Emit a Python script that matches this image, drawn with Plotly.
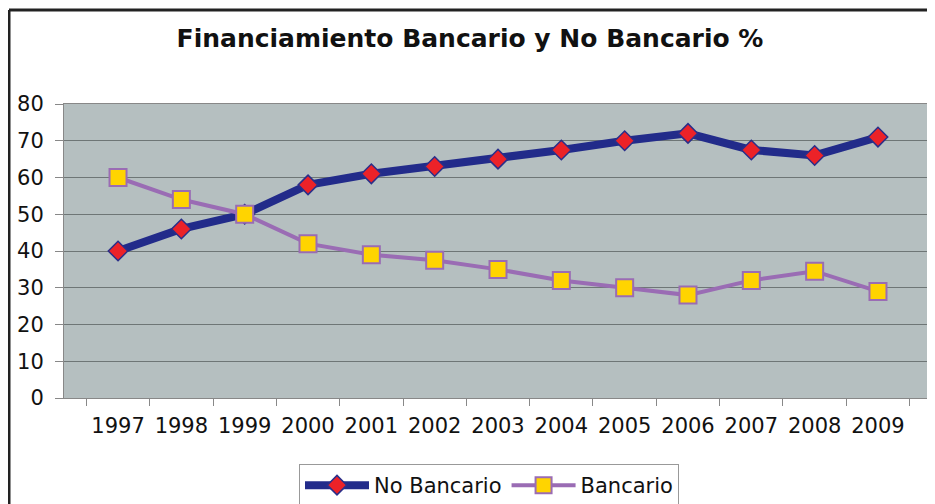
import plotly.graph_objects as go

years = ["1997", "1998", "1999", "2000", "2001", "2002", "2003", "2004", "2005", "2006", "2007", "2008", "2009"]
no_bancario = [40, 46, 50, 58, 61, 63, 65, 67.5, 70, 72, 67.5, 66, 71]
bancario = [60, 54, 50, 42, 39, 37.5, 35, 32, 30, 28, 32, 34.5, 29]
y_ticks = [0, 10, 20, 30, 40, 50, 60, 70, 80]

# page body has an 8px margin, so the figure is sized/placed to compensate
OFF = 8
W, H = 935 - OFF, 504 - OFF
ML, MR, MT, MB = 64 - OFF, 3, 104 - OFF, 504 - 398
pw = W - ML - MR
ph = H - MT - MB

def px_x(x):
    return (x - OFF - ML) / pw

def px_y(y):
    return 1 - (y - OFF - MT) / ph

fig = go.Figure()
fig.add_trace(go.Scatter(
    x=years, y=no_bancario, name="No Bancario", mode="lines+markers",
    line=dict(color="#222b8a", width=8),
    marker=dict(symbol="diamond", size=15, color="#ec2228", line=dict(color="#2a2f8a", width=1.5)),
))
fig.add_trace(go.Scatter(
    x=years, y=bancario, name="Bancario", mode="lines+markers",
    line=dict(color="#9a6cb4", width=4),
    marker=dict(symbol="square", size=17, color="#ffd400", line=dict(color="#9a6cb4", width=2)),
))

font = "DejaVu Sans"
fig.update_layout(
    width=W, height=H,
    margin=dict(l=ML, r=MR, t=MT, b=MB, autoexpand=False),
    paper_bgcolor="white",
    plot_bgcolor="#b5bfc0",
    title=dict(text="<b>Financiamiento Bancario y No Bancario %</b>",
               x=px_x(470), xref="paper", xanchor="center",
               y=1 - (38.5 - OFF) / H, yanchor="middle",
               font=dict(family=font, size=25, color="#111111")),
    xaxis=dict(type="category", tickfont=dict(family=font, size=21, color="#111111"),
               ticks="outside", tickson="boundaries", ticklen=7, tickcolor="#888888",
               showgrid=False, showline=True, linecolor="#888888", linewidth=1, mirror=True,
               ticklabelstandoff=9),
    yaxis=dict(range=[0, 80], tickvals=y_ticks, tickfont=dict(family=font, size=21, color="#111111"),
               ticks="outside", ticklen=8, tickcolor="#888888", ticklabelstandoff=7,
               showgrid=True, gridcolor="#6e7676", gridwidth=1, zeroline=False,
               showline=True, linecolor="#888888", linewidth=1, mirror=True),
    legend=dict(orientation="h", x=px_x(489), xanchor="center",
                y=px_y(464), yanchor="top",
                bordercolor="#999999", borderwidth=1, bgcolor="white",
                font=dict(family=font, size=21, color="#111111"),
                itemwidth=64, tracegroupgap=0),
    showlegend=True,
)

# outer frame (left and top edges visible)
fig.add_shape(type="line", xref="paper", yref="paper",
              x0=px_x(9), x1=px_x(9), y0=px_y(520), y1=px_y(10),
              line=dict(color="#222222", width=3))
fig.add_shape(type="line", xref="paper", yref="paper",
              x0=px_x(9), x1=px_x(950), y0=px_y(10), y1=px_y(10),
              line=dict(color="#222222", width=3))

fig.write_html("out.html")
